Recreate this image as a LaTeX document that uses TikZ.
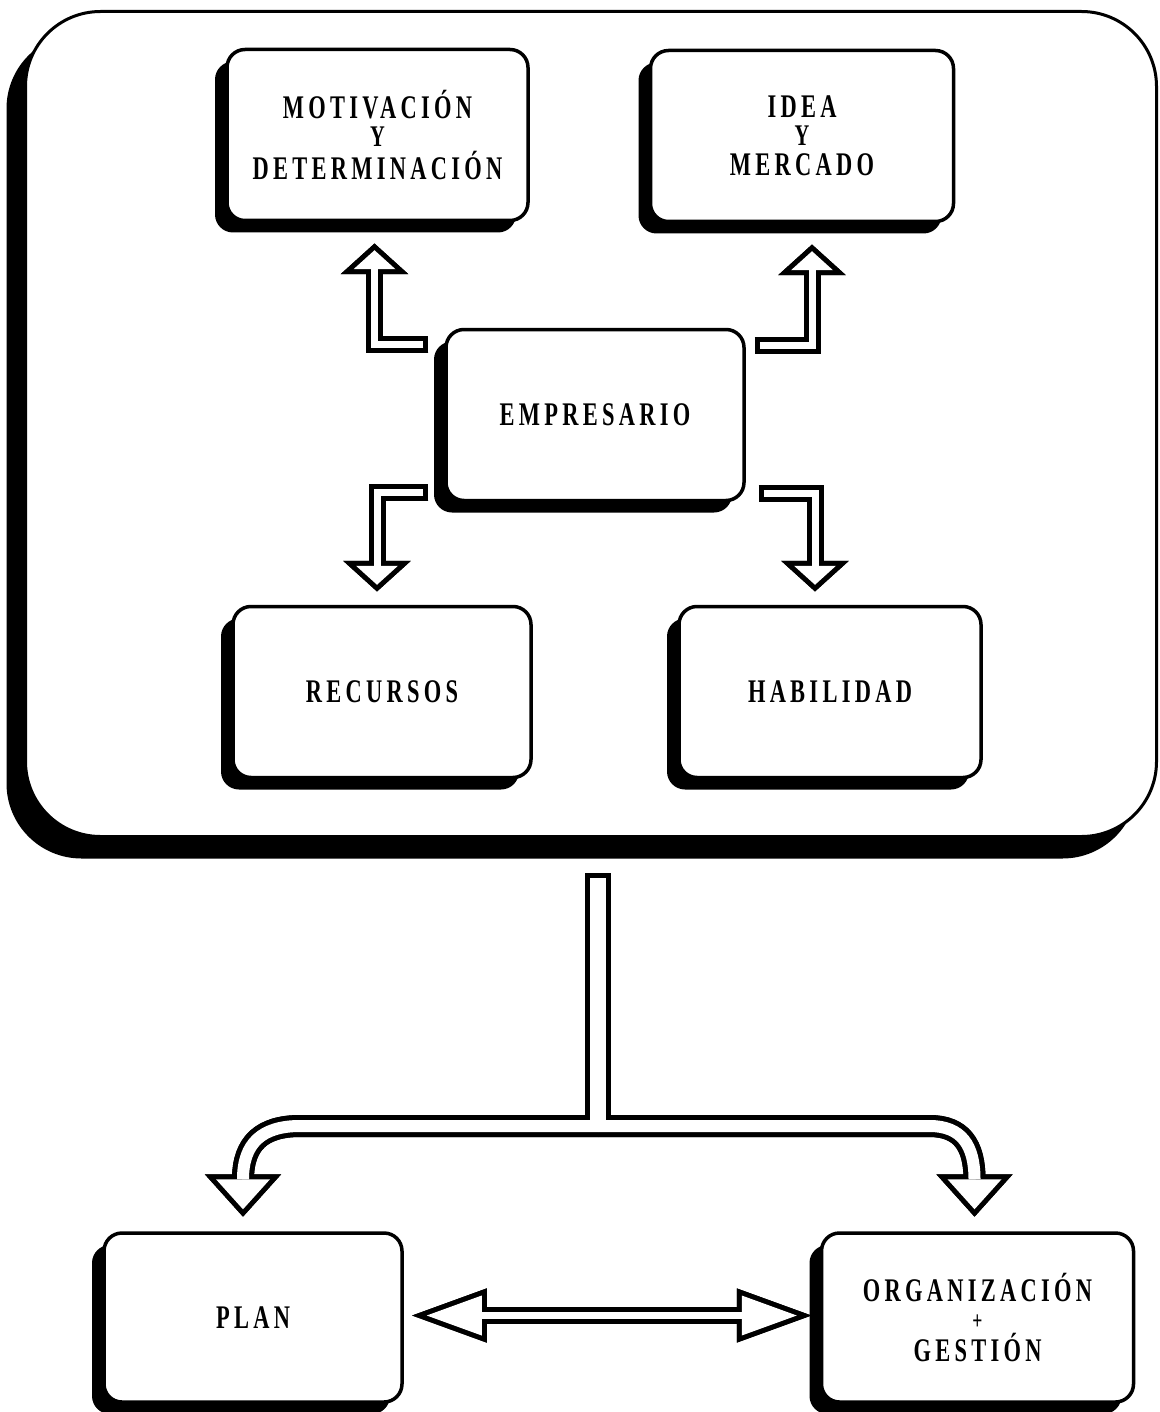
\documentclass[tikz,border=0pt]{standalone}
\usepackage{fontspec}
\usetikzlibrary{calc,shadows}
\newfontfamily\boxfont[FakeStretch=0.68,LetterSpace=13]{Liberation Serif}

\tikzset{
  outerframe/.style={draw=black, line width=3pt, fill=white, rounded corners=75pt,
    minimum width=1131pt, minimum height=825pt, inner sep=0pt,
    drop shadow={opacity=1, fill=black, shadow xshift=-19pt, shadow yshift=-22pt}},
  panel/.style={draw=black, line width=3.5pt, fill=white, rounded corners=18pt,
    minimum width=298pt, minimum height=171pt, inner sep=0pt, align=center,
    font=\boxfont\bfseries\fontsize{33}{28}\selectfont,
    drop shadow={opacity=1, fill=black, shadow xshift=-12pt, shadow yshift=-12pt}},
  rim/.style={black, line join=miter, line cap=butt},
  tiprim/.style={fill=black, draw=black, line width=10pt, line join=miter},
  core/.style={white, line join=miter, line cap=butt},
}

% joining letter between two label lines
\newcommand\midword[1]{{\fontsize{30}{28}\selectfont #1}}

% hollow arrow: #1 shaft path, #2 head outline, #3 outer shaft width, #4 inner shaft options
\newcommand\hollowarrow[4]{%
  \begin{scope}[shift={(-4,4)}]
    \draw[rim, line width=#3] #1;
    \filldraw[tiprim] #2;
  \end{scope}
  \draw[rim, line width=#3] #1;
  \filldraw[tiprim] #2;
  \draw[core, #4] #1;
  \fill[white] #2;
}

\begin{document}
\begin{tikzpicture}[x=1pt, y=-1pt]
\useasboundingbox (0,0) rectangle (1159,1412);

% outer container
\node[outerframe] (frame) at (591,424) {};

% boxes
\node[panel, minimum width=301pt] (mot)  at (377.5,135) {MOTIVACIÓN\\\midword{Y}\\[4pt]DETERMINACIÓN};
\node[panel, minimum width=303pt] (idea) at (802,136)   {IDEA\\\midword{Y}\\[2pt]MERCADO};
\node[panel] (emp)  at (595,415)   {EMPRESARIO};
\node[panel] (rec)  at (382,692)   {RECURSOS};
\node[panel, minimum width=302pt] (hab)  at (830,692)   {HABILIDAD};
\node[panel, minimum height=169pt] (plan) at (253,1317.5) {PLAN};
\node[panel, minimum width=312pt, minimum height=169pt] (org) at (977.5,1317.5)
  {ORGANIZACIÓN\\{\fontsize{26}{28}\selectfont +}\\[2pt]GESTIÓN};

% arrow anchor points
\coordinate (tlS) at ($(emp.west)+(-16,-71)$);
\coordinate (tlH) at ($(mot.south)+(-3,47)$);
\coordinate (trS) at ($(emp.east)+(9,-70)$);
\coordinate (trH) at ($(idea.south)+(10,47)$);
\coordinate (blS) at ($(emp.west)+(-16,77)$);
\coordinate (blH) at ($(rec.north)+(-5,-39)$);
\coordinate (brS) at ($(emp.east)+(13,78)$);
\coordinate (brH) at ($(hab.north)+(-15,-39)$);

% arrows out of EMPRESARIO
\hollowarrow{(tlS) -| (tlH)}{(tlH) ++(-21,0) -- ++(42,0) -- ++(-21,-19) -- cycle}{17pt}{line width=7pt, shorten <=5pt}
\hollowarrow{(trS) -| (trH)}{(trH) ++(-21,0) -- ++(42,0) -- ++(-21,-19) -- cycle}{17pt}{line width=7pt, shorten <=5pt}
\hollowarrow{(blS) -| (blH)}{(blH) ++(-21,0) -- ++(42,0) -- ++(-21,19) -- cycle}{17pt}{line width=7pt, shorten <=5pt}
\hollowarrow{(brS) -| (brH)}{(brH) ++(-21,0) -- ++(42,0) -- ++(-21,19) -- cycle}{17pt}{line width=7pt, shorten <=5pt}

% trunk splitting towards PLAN and ORGANIZACIÓN
\coordinate (tT) at ($(frame.south)+(7,35)$);
\coordinate (tJ) at ($(tT)+(0,253)$);
\coordinate (lH) at ($(plan.north)+(-10,-52)$);
\coordinate (rH) at ($(org.north)+(-3,-52)$);
\def\leftbranch{(tJ) -- ($(tJ -| lH)+(57,0)$) .. controls ($(tJ -| lH)+(19,0)$) and ($(lH)+(0,-36)$) .. (lH)}
\def\rightbranch{(tJ) -- ($(tJ -| rH)+(-45,0)$) .. controls ($(tJ -| rH)+(-13,0)$) and ($(rH)+(0,-34)$) .. (rH)}
\def\leftpoint{(lH) ++(-27,0) -- ++(54,0) -- ++(-27,30) -- cycle}
\def\rightpoint{(rH) ++(-27,0) -- ++(54,0) -- ++(-27,30) -- cycle}
\begin{scope}[shift={(-4,4)}]
  \draw[rim, line width=26pt] (tT) -- (tJ);
  \draw[rim, line width=22pt] \leftbranch;
  \draw[rim, line width=22pt] \rightbranch;
  \filldraw[tiprim] \leftpoint;
  \filldraw[tiprim] \rightpoint;
\end{scope}
\draw[rim, line width=26pt] (tT) -- (tJ);
\draw[rim, line width=22pt] \leftbranch;
\draw[rim, line width=22pt] \rightbranch;
\filldraw[tiprim] \leftpoint;
\filldraw[tiprim] \rightpoint;
\draw[core, line width=16pt, shorten <=5pt] (tT) -- (tJ);
\draw[core, line width=12pt] \leftbranch;
\draw[core, line width=12pt] \rightbranch;
\fill[white] \leftpoint;
\fill[white] \rightpoint;

% two-way arrow between PLAN and ORGANIZACIÓN
\coordinate (dL) at ($(plan.east)+(78,-2)$);
\coordinate (dR) at ($(org.west)+(-78,-2)$);
\hollowarrow{(dL) -- (dR)}{(dL) ++(0,-20) -- ++(0,40) -- ++(-55,-20) -- cycle (dR) ++(0,-20) -- ++(0,40) -- ++(55,-20) -- cycle}{17pt}{line width=7pt}
\end{tikzpicture}
\end{document}
